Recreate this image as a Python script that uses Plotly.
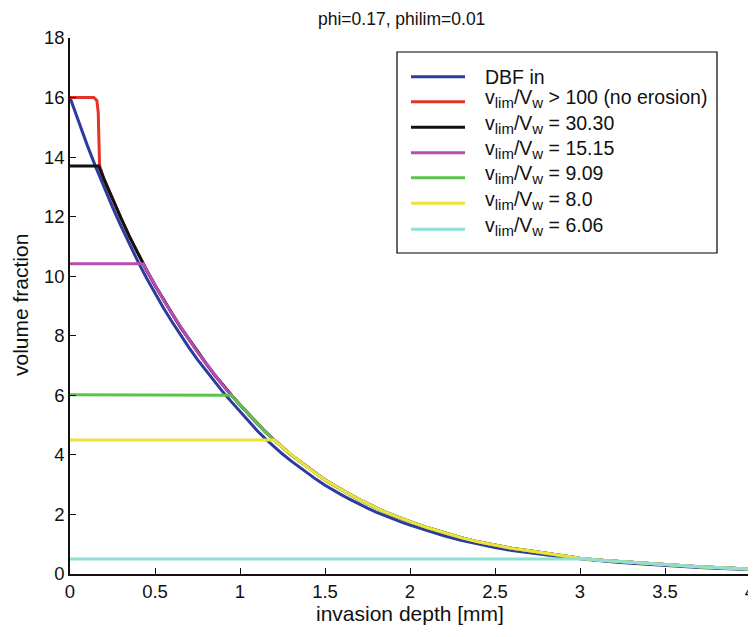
import numpy as np
import plotly.graph_objects as go

# ---------------- data ----------------
depth = [0.00, 0.05, 0.10, 0.15, 0.20, 0.25, 0.30, 0.35, 0.40, 0.45,
         0.50, 0.55, 0.60, 0.65, 0.70, 0.75, 0.80, 0.85, 0.90, 0.95,
         1.00, 1.05, 1.10, 1.15, 1.20, 1.25, 1.30, 1.35, 1.40, 1.45,
         1.50, 1.55, 1.60, 1.65, 1.70, 1.75, 1.80, 1.85, 1.90, 1.95,
         2.00, 2.10, 2.20, 2.30, 2.40, 2.50, 2.60, 2.70, 2.80, 2.90,
         3.00, 3.10, 3.20, 3.30, 3.40, 3.50, 3.60, 3.70, 3.80, 3.90, 4.00]

dbf_in = [16.00, 15.19, 14.42, 13.69, 12.99, 12.32, 11.68, 11.07, 10.49, 9.94,
          9.42, 8.93, 8.47, 8.02, 7.60, 7.20, 6.83, 6.46, 6.11, 5.78,
          5.46, 5.14, 4.82, 4.54, 4.27, 4.03, 3.80, 3.58, 3.37, 3.17,
          2.98, 2.81, 2.65, 2.50, 2.35, 2.21, 2.08, 1.96, 1.85, 1.74,
          1.64, 1.45, 1.28, 1.13, 1.00, 0.89, 0.79, 0.71, 0.63, 0.57,
          0.51, 0.45, 0.40, 0.36, 0.32, 0.28, 0.25, 0.22, 0.195, 0.17, 0.15]

# profile after erosion (slightly above DBF in), used past each plateau
eroded = [16.30, 15.50, 14.72, 13.97, 13.26, 12.59, 11.95, 11.33, 10.745, 10.21,
          9.70, 9.21, 8.75, 8.29, 7.87, 7.45, 7.07, 6.69, 6.33, 6.00,
          5.68, 5.37, 5.05, 4.77, 4.50, 4.25, 4.01, 3.79, 3.57, 3.36,
          3.16, 2.99, 2.82, 2.66, 2.50, 2.36, 2.22, 2.09, 1.98, 1.86,
          1.76, 1.56, 1.38, 1.22, 1.08, 0.97, 0.86, 0.78, 0.69, 0.61,
          0.53, 0.47, 0.43, 0.39, 0.35, 0.31, 0.28, 0.245, 0.215, 0.19, 0.165]

# no-erosion case: flat top then sharp drop
noerosion_x = [0.0, 0.140, 0.158, 0.166, 0.170, 0.174]
noerosion_y = [16.0, 16.0, 15.90, 15.50, 14.60, 13.72]

# plateau levels of the eroded cases
plateau_levels = [13.7, 10.42, 6.02, 4.5, 0.5]

SUB_L = "<sub><span style='font-size:15px'>lim</span></sub>"
SUB_W = "<sub><span style='font-size:15px'>w</span></sub>"
series_names = [
    "DBF in",
    "v" + SUB_L + "/V" + SUB_W + " &gt; 100 (no erosion)",
    "v" + SUB_L + "/V" + SUB_W + " = 30.30",
    "v" + SUB_L + "/V" + SUB_W + " = 15.15",
    "v" + SUB_L + "/V" + SUB_W + " = 9.09",
    "v" + SUB_L + "/V" + SUB_W + " = 8.0",
    "v" + SUB_L + "/V" + SUB_W + " = 6.06",
]
series_colors = ["#2b3b9f", "#e2342a", "#111111", "#b64db4",
                 "#5bc24b", "#ebe23c", "#8fdfd5"]

# ---------------- build series ----------------
d = np.array(depth)
e = np.array(eroded)

curves = [(list(depth), list(dbf_in))]

mask = d > noerosion_x[-1]
curves.append((noerosion_x + list(d[mask]), noerosion_y + list(e[mask])))

for lvl in plateau_levels:
    xj = float(np.interp(lvl, e[::-1], d[::-1]))
    m = d > xj + 1e-6
    curves.append(([0.0, xj] + list(d[m]), [lvl, lvl] + list(e[m])))

fig = go.Figure()
for (xs, ys), name, col in zip(curves, series_names, series_colors):
    fig.add_trace(go.Scatter(x=xs, y=ys, mode="lines", name=name,
                             line=dict(color=col, width=3),
                             showlegend=False))

# ---------------- layout in page pixels (page has an 8px body margin) ----------------
OFF = 8
FIG_W, FIG_H = 756 - OFF, 637 - OFF
L, R, T, B = 70 - OFF, 750 - OFF, 38 - OFF, 574 - OFF
W, H = R - L, B - T
def px(x):
    return (x - OFF - L) / W
def py(y):
    return (B - (y - OFF)) / H

shapes = [dict(type="rect", xref="paper", yref="paper",
               x0=px(397), x1=px(717), y0=py(253), y1=py(52),
               line=dict(color="black", width=1.2), fillcolor="white", layer="above")]
annotations = []
row_y = [76.7, 101.7, 127.3, 152.7, 177.7, 203.3, 229.3]
for i, (name, col) in enumerate(zip(series_names, series_colors)):
    yy = row_y[i]
    shapes.append(dict(type="line", xref="paper", yref="paper",
                       x0=px(411), x1=px(465), y0=py(yy), y1=py(yy),
                       line=dict(color=col, width=3), layer="above"))
    annotations.append(dict(xref="paper", yref="paper", x=px(483),
                            y=py(yy - (0 if i == 0 else 3)),
                            text=name, showarrow=False, xanchor="left",
                            yanchor="middle",
                            font=dict(size=19.5, color="#111111")))

annotations.append(dict(xref="paper", yref="paper", x=px(401), y=py(19),
                        text="phi=0.17, philim=0.01", showarrow=False,
                        xanchor="center", yanchor="middle",
                        font=dict(size=17.5, color="#111111")))
annotations.append(dict(xref="paper", yref="paper", x=px(410), y=py(613),
                        text="invasion depth [mm]", showarrow=False,
                        xanchor="center", yanchor="middle",
                        font=dict(size=21, color="#111111")))
annotations.append(dict(xref="paper", yref="paper", x=px(20), y=py(305),
                        text="volume fraction", showarrow=False, textangle=-90,
                        xanchor="center", yanchor="middle",
                        font=dict(size=21, color="#111111")))

fig.update_layout(
    width=FIG_W, height=FIG_H,
    margin=dict(l=L, r=FIG_W - R, t=T, b=FIG_H - B, autoexpand=False),
    paper_bgcolor="white", plot_bgcolor="white",
    font=dict(family="Liberation Sans, Arial, Helvetica, sans-serif",
              size=18.5, color="#111111"),
    shapes=shapes, annotations=annotations,
    xaxis=dict(range=[0, 4], tickvals=[0, 0.5, 1, 1.5, 2, 2.5, 3, 3.5, 4],
               ticktext=["0", "0.5", "1", "1.5", "2", "2.5", "3", "3.5", "4"],
               ticks="inside", ticklen=6, tickcolor="#111111", tickwidth=1.2,
               showline=True, linecolor="#111111", linewidth=1.5,
               showgrid=False, zeroline=False, automargin=False),
    yaxis=dict(range=[0, 18], tickvals=list(range(0, 19, 2)),
               ticks="inside", ticklen=6, tickcolor="#111111", tickwidth=1.2,
               showline=True, linecolor="#111111", linewidth=1.5,
               showgrid=False, zeroline=False, automargin=False),
)

fig.write_html("out.html")
